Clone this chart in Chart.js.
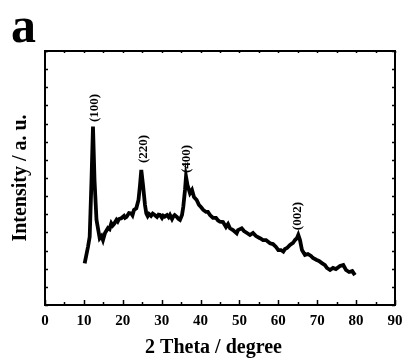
<!DOCTYPE html>
<html>
<head>
<meta charset="utf-8">
<script src="https://cdn.jsdelivr.net/npm/chart.js@4/dist/chart.umd.min.js"></script>
<style>
html,body{margin:0;padding:0;background:#fff;}
#wrap{width:402px;height:363px;position:relative;}
</style>
</head>
<body>
<div id="wrap"><canvas id="c" width="402" height="363"></canvas></div>
<script>
// 2 Theta (degree)
const twoTheta = [10.2,11.06,11.49,11.96,12.34,12.73,13.24,14.07,14.53,14.91,15.43,16.2,16.6,17.05,17.4,17.74,18.38,18.7,19.03,19.62,20.31,20.6,20.96,21.6,22.19,22.5,22.88,23.48,24.04,24.43,24.76,25.2,25.71,26.05,26.4,26.74,27.26,27.7,28.21,28.8,29.2,29.57,30.08,30.4,30.78,31.37,31.8,32.14,32.66,33.0,33.35,33.94,34.3,34.71,35.23,35.56,36.0,36.26,36.64,37.28,37.8,38.31,39.0,39.6,40.1,40.7,41.4,41.9,42.43,43.2,43.97,44.5,45.0,45.77,46.54,47.06,47.57,48.34,49.29,49.63,50.58,51.17,51.94,52.71,53.48,54.25,55.28,56.06,56.83,57.86,58.62,59.4,59.99,60.68,61.28,61.71,62.23,63.0,63.77,64.28,64.8,65.13,65.57,66.08,66.85,67.6,68.4,68.9,69.86,70.45,71.2,72.0,72.5,73.3,74.05,74.8,75.85,76.7,77.4,78.2,79.0,79.7];
// Intensity (a. u.)
const intensity = [2.30,3.21,3.76,6.89,9.83,6.89,4.69,3.68,3.80,3.58,3.97,4.24,4.18,4.50,4.38,4.46,4.69,4.60,4.74,4.78,4.91,4.80,4.85,5.07,5.05,4.95,5.24,5.33,5.79,6.61,7.44,6.61,5.51,5.05,4.90,5.02,4.91,5.04,4.96,4.85,4.98,4.96,4.80,4.92,4.87,4.96,4.84,4.96,4.74,4.88,4.96,4.85,4.75,4.69,4.96,5.42,6.34,7.07,6.61,6.16,6.34,5.95,5.79,5.51,5.40,5.24,5.13,5.13,4.96,4.80,4.80,4.66,4.59,4.57,4.30,4.46,4.23,4.13,3.95,4.13,4.23,4.08,3.97,3.86,3.97,3.80,3.68,3.58,3.58,3.40,3.36,3.20,3.03,3.03,2.94,3.09,3.14,3.31,3.42,3.58,3.69,3.86,3.58,3.03,2.76,2.81,2.70,2.59,2.48,2.43,2.31,2.20,2.04,1.93,2.04,1.98,2.15,2.20,1.93,1.82,1.87,1.65];
// Peak annotations
const peakLabels = ['(100)','(220)','(400)','(002)'];
const peakX = [12.7,25.3,36.3,65.05];
const peakY = [10.86,8.6,8.05,4.9];
const xTicks = [0,10,20,30,40,50,60,70,80,90];

const SERIF = '"Liberation Serif","Times New Roman",serif';
const points = twoTheta.map((x,i)=>({x:x,y:intensity[i]}));

const decor = {
  id:'decor',
  afterDraw(chart){
    const ctx = chart.ctx;
    const xs = chart.scales.x, ys = chart.scales.y;
    const a = chart.chartArea;
    ctx.save();
    ctx.strokeStyle = '#000';
    // frame
    ctx.lineWidth = 2;
    ctx.strokeRect(a.left, a.top, a.right - a.left, a.bottom - a.top);
    // x ticks (bottom + top)
    ctx.lineWidth = 1.5;
    for (let v = 0; v <= 90; v += 5) {
      const px = Math.round(xs.getPixelForValue(v)) + 0.5;
      const major = v % 10 === 0;
      const lb = major ? 5 : 3;
      ctx.beginPath();
      ctx.moveTo(px, a.bottom); ctx.lineTo(px, a.bottom - lb);
      ctx.moveTo(px, a.top); ctx.lineTo(px, a.top + 2);
      ctx.stroke();
    }
    // y ticks (left + right)
    for (let v = 0; v <= 14; v += 1) {
      const py = Math.round(ys.getPixelForValue(v)) + 0.5;
      ctx.beginPath();
      ctx.moveTo(a.left, py); ctx.lineTo(a.left + 3, py);
      ctx.moveTo(a.right, py); ctx.lineTo(a.right - 3, py);
      ctx.stroke();
    }
    // peak labels
    ctx.fillStyle = '#000';
    ctx.font = 'bold 13px ' + SERIF;
    ctx.textAlign = 'center';
    ctx.textBaseline = 'middle';
    peakLabels.forEach((t,i)=>{
      ctx.save();
      ctx.translate(xs.getPixelForValue(peakX[i]), ys.getPixelForValue(peakY[i]));
      ctx.rotate(-Math.PI/2);
      ctx.fillText(t, 0, 0);
      ctx.restore();
    });
    // axis titles
    ctx.font = 'bold 20px ' + SERIF;
    ctx.fillText('2 Theta / degree', 213.5, 348);
    ctx.save();
    ctx.translate(21, (a.top + a.bottom)/2);
    ctx.rotate(-Math.PI/2);
    ctx.fillText('Intensity / a. u.', 0, 0);
    ctx.restore();
    // panel letter
    ctx.font = 'bold 50px ' + SERIF;
    ctx.textAlign = 'left';
    ctx.textBaseline = 'alphabetic';
    ctx.fillText('a', 11, 42);
    ctx.restore();
  }
};

new Chart(document.getElementById('c'), {
  type: 'line',
  data: {
    datasets: [{
      data: points,
      borderColor: '#000',
      borderWidth: 3.8,
      pointRadius: 0,
      tension: 0,
      fill: false
    }]
  },
  options: {
    responsive: false,
    animation: false,
    devicePixelRatio: 1,
    layout: { padding: { top: 51, right: 7, left: 0, bottom: 0 } },
    plugins: { legend: { display: false }, tooltip: { enabled: false } },
    scales: {
      x: {
        type: 'linear', min: 0, max: 90,
        grid: { display: false, drawTicks: false },
        border: { display: false },
        afterFit(s){ s.height = 58; s.paddingLeft = 0; s.paddingRight = 0; },
        afterBuildTicks(s){ s.ticks = xTicks.map(v=>({value:v})); },
        ticks: {
          color: '#000', padding: 7, maxRotation: 0,
          font: { family: SERIF, size: 15, weight: 'bold' }
        }
      },
      y: {
        type: 'linear', min: 0, max: 14,
        grid: { display: false, drawTicks: false },
        border: { display: false },
        afterFit(s){ s.width = 45; s.paddingTop = 0; s.paddingBottom = 0; },
        ticks: { display: false, stepSize: 1 }
      }
    }
  },
  plugins: [decor]
});
</script>
</body>
</html>
